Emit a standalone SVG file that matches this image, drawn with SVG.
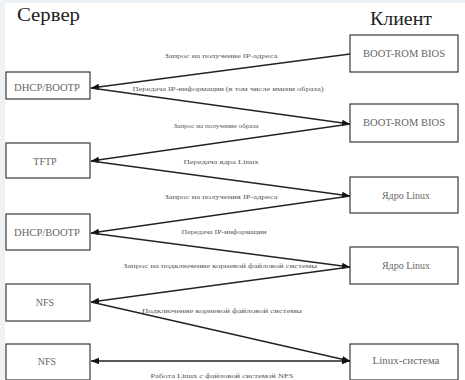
<svg xmlns="http://www.w3.org/2000/svg" width="465" height="380" viewBox="0 0 465 380">
<defs>
<marker id="ah" viewBox="0 0 10 10" refX="10" refY="5" markerWidth="8" markerHeight="8" markerUnits="userSpaceOnUse" orient="auto-start-reverse">
<path d="M0,1 L10,5 L0,9 Z" fill="#111"/>
</marker>
<style>
.box{fill:#fff;stroke:#3a3a3a;stroke-width:1.2}
.bl{font-family:"Liberation Serif","Times New Roman",serif;font-size:10px;fill:#666;text-anchor:middle}
.hd{font-family:"Liberation Serif","Times New Roman",serif;font-size:19px;fill:#222}
.lb{font-family:"Liberation Serif","Times New Roman",serif;font-size:7px;fill:#555;text-anchor:middle}
.cn{stroke:#222;stroke-width:1.3;fill:none}
</style>
</defs>
<rect width="465" height="380" fill="#edf2f7"/>
<rect x="5" y="3" width="460" height="377" fill="#fff"/>
<text class="hd" x="17" y="21" textLength="63" lengthAdjust="spacingAndGlyphs">Сервер</text>
<text class="hd" x="370" y="25" textLength="62" lengthAdjust="spacingAndGlyphs">Клиент</text>

<g id="srv-dhcp1"><rect class="box" x="6" y="72" width="84" height="27"/><text class="bl" x="47" y="91" textLength="66" lengthAdjust="spacingAndGlyphs">DHCP/BOOTP</text></g>
<g id="srv-tftp"><rect class="box" x="6" y="143" width="84" height="35"/><text class="bl" x="45" y="165">TFTP</text></g>
<g id="srv-dhcp2"><rect class="box" x="6" y="214" width="84" height="36"/><text class="bl" x="47" y="236" textLength="66" lengthAdjust="spacingAndGlyphs">DHCP/BOOTP</text></g>
<g id="srv-nfs1"><rect class="box" x="6" y="284" width="84" height="37"/><text class="bl" x="45" y="306">NFS</text></g>
<g id="srv-nfs2"><rect class="box" x="6" y="344" width="84" height="36"/><text class="bl" x="47" y="365">NFS</text></g>

<g id="cl-bios1"><rect class="box" x="350" y="35" width="108" height="37"/><text class="bl" x="404" y="57" textLength="82" lengthAdjust="spacingAndGlyphs">BOOT-ROM BIOS</text></g>
<g id="cl-bios2"><rect class="box" x="350" y="104" width="108" height="38"/><text class="bl" x="404" y="126" textLength="82" lengthAdjust="spacingAndGlyphs">BOOT-ROM BIOS</text></g>
<g id="cl-kern1"><rect class="box" x="350" y="177" width="108" height="36"/><text class="bl" x="406" y="199">Ядро Linux</text></g>
<g id="cl-kern2"><rect class="box" x="350" y="247" width="108" height="37"/><text class="bl" x="406" y="269">Ядро Linux</text></g>
<g id="cl-linux"><rect class="box" x="350" y="344" width="108" height="36"/><text class="bl" x="406" y="364" textLength="67" lengthAdjust="spacingAndGlyphs">Linux-система</text></g>

<g id="connectors">
<line class="cn" x1="350" y1="54" x2="91" y2="88" marker-end="url(#ah)"/>
<line class="cn" x1="91" y1="88" x2="350" y2="124" marker-end="url(#ah)"/>
<line class="cn" x1="350" y1="124" x2="91" y2="161" marker-end="url(#ah)"/>
<line class="cn" x1="91" y1="161" x2="350" y2="196" marker-end="url(#ah)"/>
<line class="cn" x1="350" y1="196" x2="91" y2="233" marker-end="url(#ah)"/>
<line class="cn" x1="91" y1="233" x2="350" y2="267" marker-end="url(#ah)"/>
<line class="cn" x1="350" y1="267" x2="91" y2="302" marker-end="url(#ah)"/>
<line class="cn" x1="91" y1="302" x2="350" y2="361" marker-end="url(#ah)"/>
<line class="cn" x1="91" y1="361" x2="350" y2="361" marker-start="url(#ah)" marker-end="url(#ah)"/>
<text class="lb" x="221" y="58" textLength="113" lengthAdjust="spacingAndGlyphs">Запрос на получение IP-адреса</text>
<text class="lb" x="228" y="91" textLength="191" lengthAdjust="spacingAndGlyphs">Передача IP-информации (в том числе имени образа)</text>
<text class="lb" x="216" y="128" textLength="85" lengthAdjust="spacingAndGlyphs">Запрос на получение образа</text>
<text class="lb" x="221" y="164" textLength="75" lengthAdjust="spacingAndGlyphs">Передача ядра Linux</text>
<text class="lb" x="221" y="199" textLength="113" lengthAdjust="spacingAndGlyphs">Запрос на получения IP-адреса</text>
<text class="lb" x="224" y="234" textLength="85" lengthAdjust="spacingAndGlyphs">Передача IP-информации</text>
<text class="lb" x="220" y="268" textLength="194" lengthAdjust="spacingAndGlyphs">Запрос на подключение корневой файловой системы</text>
<text class="lb" x="222" y="313" textLength="160" lengthAdjust="spacingAndGlyphs">Подключение корневой файловой системы</text>
<text class="lb" x="222" y="378" textLength="143" lengthAdjust="spacingAndGlyphs">Работа Linux с файловой системой NFS</text>
</g>
</svg>
